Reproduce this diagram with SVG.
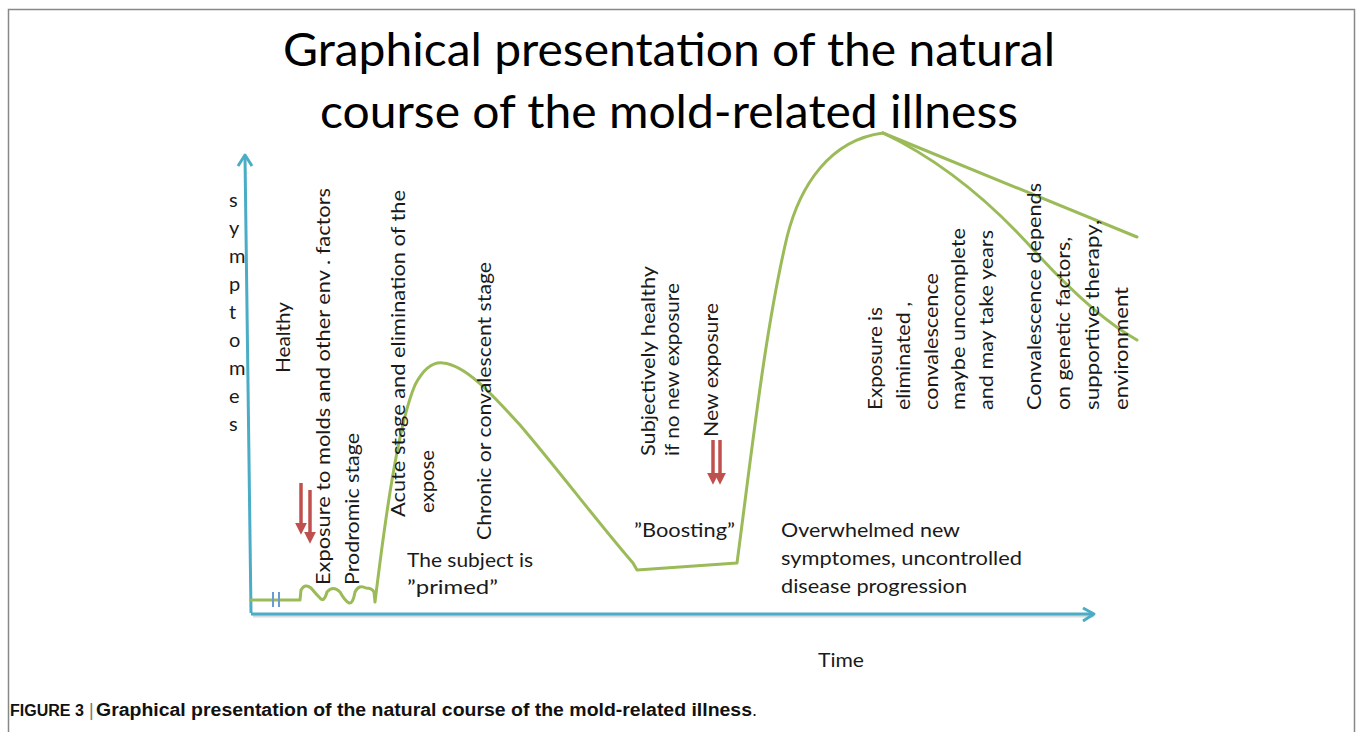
<svg xmlns="http://www.w3.org/2000/svg" width="1358" height="732" viewBox="0 0 1358 732">
<defs>
<style>
.t{font-family:Lato,"Open Sans","Liberation Sans",sans-serif;font-size:20px;fill:#1a1a1a}
.ttl{font-family:Lato,"Open Sans","Liberation Sans",sans-serif;font-size:46px;fill:#000}
.cap{font-family:"Liberation Sans Narrow","Liberation Sans",Arial,sans-serif;font-size:18px;font-weight:bold;fill:#111}
.axis{stroke:#4BACC6;stroke-width:3;fill:none}
.axsh{stroke:#b9c7cc;stroke-width:3;fill:none;opacity:0.6}
.curve{stroke:#9BBB59;stroke-width:3;fill:none;stroke-linejoin:round;stroke-linecap:round}
.red{stroke:#C0504D;stroke-width:3.5;fill:none}
.brk{stroke:#6A9BD2;stroke-width:2}
</style>
<marker id="ah" viewBox="0 0 10 10" refX="6" refY="5" markerWidth="12" markerHeight="12" orient="auto" markerUnits="userSpaceOnUse">
<path d="M0,0 L10,5 L0,10 Z" fill="#C0504D"/>
</marker>
</defs>
<rect x="0" y="0" width="1358" height="732" fill="#fff"/>
<path d="M8.5,740 L8.5,9.5 L1354.5,9.5 L1354.5,740" fill="none" stroke="#888" stroke-width="1.5"/>

<g id="title">
<text class="ttl" x="283" y="66" textLength="772" lengthAdjust="spacingAndGlyphs">Graphical presentation of the natural</text>
<text class="ttl" x="320" y="128" textLength="698" lengthAdjust="spacingAndGlyphs">course of the mold-related illness</text>
</g>

<g id="connectors">
<path class="axsh" d="M253,616 L1094,616"/>
<path class="axis" d="M251,613 L245,156"/>
<path class="axis" d="M238,166 L245,155 L252,166" stroke-linejoin="round"/>
<path class="axis" d="M251,614 L1093,614"/>
<path class="axis" d="M1083,608 L1094,614 L1083,621" stroke-linejoin="round"/>
<path class="curve" d="M251,600 L300,600 L301,590 Q305,583 311,588 Q316,594 320,598 Q324,603 327,592 Q333,585 340,592 Q345,601 349,603 Q353,604 355,592 Q359,584 366,588 Q372,588 374,592 L375,602 C385,520 398,425 415,385 C425,366 435,362 443,363 C465,365 490,392 520,425 C560,472 600,525 633,563 L637,570 L737,563 C752,450 765,330 787,237 C800,185 830,140 883,133"/>
<path class="curve" d="M883,133 L1137,237"/>
<path class="curve" d="M883,133 C940,160 990,200 1040,257 C1080,300 1110,325 1137,340"/>
<line class="brk" x1="273" y1="592" x2="273" y2="607"/>
<line class="brk" x1="279" y1="592" x2="279" y2="607"/>
<line class="red" x1="301" y1="483" x2="301" y2="530" marker-end="url(#ah)"/>
<line class="red" x1="310" y1="490" x2="310" y2="539" marker-end="url(#ah)"/>
<line class="red" x1="713" y1="440" x2="713" y2="480" marker-end="url(#ah)"/>
<line class="red" x1="720" y1="440" x2="720" y2="480" marker-end="url(#ah)"/>
</g>

<g id="ylabel">
<text class="t" x="229" y="207">s</text>
<text class="t" x="229" y="235">y</text>
<text class="t" x="229" y="263">m</text>
<text class="t" x="229" y="291">p</text>
<text class="t" x="229" y="319">t</text>
<text class="t" x="229" y="347">o</text>
<text class="t" x="229" y="375">m</text>
<text class="t" x="229" y="403">e</text>
<text class="t" x="229" y="431">s</text>
</g>

<g id="healthy"><text class="t" transform="translate(290,373) rotate(-90)" textLength="71" lengthAdjust="spacingAndGlyphs">Healthy</text></g>
<g id="exposure"><text class="t" transform="translate(330,585) rotate(-90)" textLength="397" lengthAdjust="spacingAndGlyphs">Exposure to molds and other  env . factors</text></g>
<g id="prodromic"><text class="t" transform="translate(359,585) rotate(-90)" textLength="152" lengthAdjust="spacingAndGlyphs">Prodromic stage</text></g>
<g id="acute">
<text class="t" transform="translate(405,517) rotate(-90)" textLength="327" lengthAdjust="spacingAndGlyphs">Acute stage and elimination of the</text>
<text class="t" transform="translate(434,513) rotate(-90)" textLength="63" lengthAdjust="spacingAndGlyphs">expose</text>
</g>
<g id="chronic"><text class="t" transform="translate(491,540) rotate(-90)" textLength="278" lengthAdjust="spacingAndGlyphs">Chronic or convalescent stage</text></g>
<g id="primed">
<text class="t" x="407" y="567" textLength="126" lengthAdjust="spacingAndGlyphs">The subject is</text>
<text class="t" x="407" y="594" textLength="91" lengthAdjust="spacingAndGlyphs">”primed”</text>
</g>
<g id="subjectively">
<text class="t" transform="translate(655,456) rotate(-90)" textLength="190" lengthAdjust="spacingAndGlyphs">Subjectively healthy</text>
<text class="t" transform="translate(679,456) rotate(-90)" textLength="173" lengthAdjust="spacingAndGlyphs">if no new exposure</text>
</g>
<g id="newexposure"><text class="t" transform="translate(718,437) rotate(-90)" textLength="134" lengthAdjust="spacingAndGlyphs">New exposure</text></g>
<g id="boosting"><text class="t" x="634" y="537" textLength="101" lengthAdjust="spacingAndGlyphs">”Boosting”</text></g>
<g id="overwhelmed">
<text class="t" x="781" y="537" textLength="179" lengthAdjust="spacingAndGlyphs">Overwhelmed new</text>
<text class="t" x="781" y="565" textLength="241" lengthAdjust="spacingAndGlyphs">symptomes, uncontrolled</text>
<text class="t" x="781" y="593" textLength="186" lengthAdjust="spacingAndGlyphs">disease progression</text>
</g>
<g id="time"><text class="t" x="818" y="667" textLength="46" lengthAdjust="spacingAndGlyphs">Time</text></g>
<g id="eliminated">
<text class="t" transform="translate(882,410) rotate(-90)" textLength="103" lengthAdjust="spacingAndGlyphs">Exposure is</text>
<text class="t" transform="translate(910,410) rotate(-90)" textLength="108" lengthAdjust="spacingAndGlyphs">eliminated ,</text>
<text class="t" transform="translate(938,410) rotate(-90)" textLength="137" lengthAdjust="spacingAndGlyphs">convalescence</text>
<text class="t" transform="translate(965,410) rotate(-90)" textLength="182" lengthAdjust="spacingAndGlyphs">maybe uncomplete</text>
<text class="t" transform="translate(993,410) rotate(-90)" textLength="180" lengthAdjust="spacingAndGlyphs">and may take years</text>
</g>
<g id="depends">
<text class="t" transform="translate(1041,410) rotate(-90)" textLength="227" lengthAdjust="spacingAndGlyphs">Convalescence depends</text>
<text class="t" transform="translate(1070,410) rotate(-90)" textLength="173" lengthAdjust="spacingAndGlyphs">on genetic factors,</text>
<text class="t" transform="translate(1099,410) rotate(-90)" textLength="190" lengthAdjust="spacingAndGlyphs">supportive therapy,</text>
<text class="t" transform="translate(1128,410) rotate(-90)" textLength="123" lengthAdjust="spacingAndGlyphs">environment</text>
</g>

<g id="caption">
<text class="cap" x="10" y="716" style="font-size:16px">FIGURE 3</text>
<text class="cap" x="89" y="716" style="font-weight:normal;fill:#777">|</text>
<text class="cap" x="96" y="716"><tspan textLength="656" lengthAdjust="spacingAndGlyphs">Graphical presentation of the natural course of the mold-related illness</tspan><tspan font-weight="normal">.</tspan></text>
</g>
</svg>
